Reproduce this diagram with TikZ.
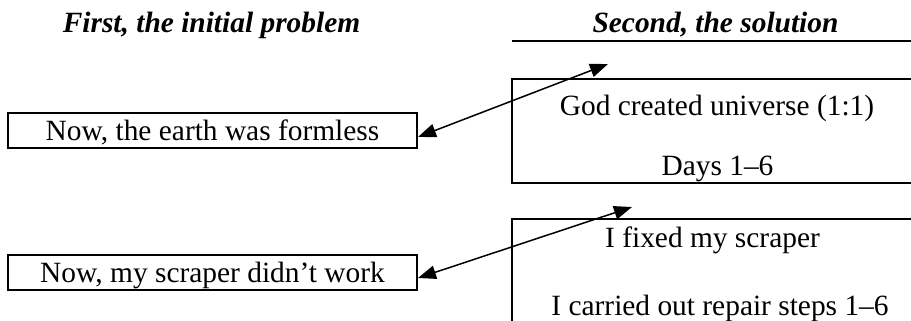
\documentclass[tikz,border=0pt]{standalone}
\usepackage{fontspec}
\setmainfont{Liberation Serif}
\usetikzlibrary{arrows.meta}
\tikzset{
  basefont/.style={font=\fontsize{29.4}{35}\selectfont},
  titletext/.style={basefont, font=\fontsize{29.4}{35}\selectfont\bfseries\itshape, anchor=base, inner sep=0pt},
  plaintext/.style={basefont, anchor=base, inner sep=0pt},
  leftbox/.style={basefont, draw, line width=1.6pt, anchor=base, minimum width=409pt,
    text height=27pt, text depth=8pt, inner xsep=0pt, inner ysep=0pt},
  rightbox/.style={draw, line width=1.6pt, minimum width=410pt, minimum height=104pt, inner sep=0pt},
  linkarrow/.style={line width=1.5pt, {Triangle[length=18pt,width=13.5pt]}-{Triangle[length=18pt,width=13.5pt]}},
}
\begin{document}
\begin{tikzpicture}[x=1pt,y=-1pt]
\useasboundingbox (0,0) rectangle (911,321);
\clip (0,0) rectangle (911,321);
% titles
\node[titletext] (t1) at (211.5,33) {First, the initial problem};
\node[titletext] (t2) at (715.5,33) {Second, the solution};
\coordinate (ruleL) at (512,41);
\coordinate (ruleR) at (915,41);
\draw[line width=2pt] (ruleL) -- (ruleR);
% left boxes
\node[leftbox] (l1) at (212.5,140) {Now, the earth was formless};
\node[leftbox] (l2) at (212.5,282) {Now, my scraper didn't work};
% right boxes
\node[rightbox] (r1) at (717,131) {};
\node[rightbox] (r2) at (717,271) {};
\node[plaintext] (r1a) at (717,115) {God created universe (1:1)};
\node[plaintext] (r1b) at (717.5,175) {Days 1--6};
\node[plaintext] (r2a) at (712.5,247) {I fixed my scraper};
\node[plaintext] (r2b) at (720,315) {I carried out repair steps 1--6};
% arrows
\coordinate (a1L) at (418,137);
\coordinate (a1R) at (608,64);
\coordinate (a2L) at (418,278);
\coordinate (a2R) at (632,207);
\draw[linkarrow] (a1L) -- (a1R);
\draw[linkarrow] (a2L) -- (a2R);
\end{tikzpicture}
\end{document}
